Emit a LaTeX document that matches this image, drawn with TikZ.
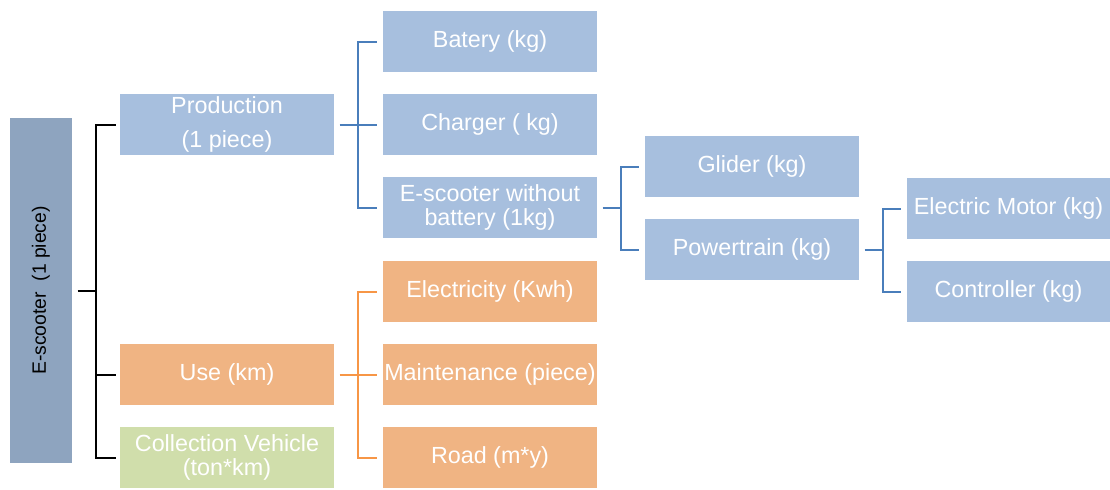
\documentclass[tikz,border=0pt]{standalone}
\usepackage{fontspec}
\setmainfont{Liberation Sans}
\usetikzlibrary{calc}

\definecolor{rootfill}{HTML}{8EA4BF}
\definecolor{bluefill}{HTML}{A7BFDE}
\definecolor{orangefill}{HTML}{F0B483}
\definecolor{greenfill}{HTML}{D0DEAB}
\definecolor{lineblue}{HTML}{4A7EBB}
\definecolor{lineorange}{HTML}{F79646}

\begin{document}
\begin{tikzpicture}[
  x=0.75pt,y=-0.75pt,
  box/.style={inner sep=0pt, minimum width=160.5pt, minimum height=45.75pt, align=center, text=white, font=\fontsize{17.5}{17.5}\selectfont},
  bbox/.style={box, fill=bluefill},
  obox/.style={box, fill=orangefill},
  gbox/.style={box, fill=greenfill},
  rootbox/.style={fill=rootfill, inner sep=0pt, minimum width=46.5pt, minimum height=258.75pt},
  kline/.style={draw=black, line width=1.5pt},
  bline/.style={draw=lineblue, line width=1.5pt},
  oline/.style={draw=lineorange, line width=1.5pt}
]
\useasboundingbox (0,0) rectangle (1110,489);
\node[rootbox] (root) at (41,290.5) {};
\node[rotate=90, font=\fontsize{14.5}{17}\selectfont] (roottext) at (root.center) {E-scooter~ (1 piece)};
\node[bbox] (prod) at (227,124.5) {Production\\[8pt](1 piece)};
\node[obox] (use) at (227,374.5) {Use (km)};
\node[gbox] (coll) at (227,457.5) {Collection Vehicle\\(ton*km)};
\node[bbox] (bat) at (490,41.5) {Batery (kg)};
\node[bbox] (chg) at (490,124.5) {Charger ( kg)};
\node[bbox] (esc) at (490,207.5) {E-scooter without\\battery (1kg)};
\node[obox] (elec) at (490,291.5) {Electricity (Kwh)};
\node[obox] (mnt) at (490,374.5) {Maintenance (piece)};
\node[obox] (road) at (490,457.5) {Road (m*y)};
\node[bbox] (glider) at (752,166.5) {Glider (kg)};
\node[bbox] (power) at (752,249.5) {Powertrain (kg)};
\node[bbox, minimum width=152.25pt] (motor) at (1008.5,208.5) {Electric Motor (kg)};
\node[bbox, minimum width=152.25pt] (ctrl) at (1008.5,291.5) {Controller (kg)};
\coordinate (rootj) at ($(root.east)+(24,0)$);
\coordinate (prodj) at ($(prod.east)+(24,0)$);
\coordinate (usej) at ($(use.east)+(24,0)$);
\coordinate (escj) at ($(esc.east)+(24,0)$);
\coordinate (powerj) at ($(power.east)+(24,0)$);
\draw[kline, shorten <=4pt] (root.east) -- (rootj); \draw[kline, shorten >=3pt] (rootj) |- (prod.west); \draw[kline, shorten >=3pt] (rootj) |- (use.west); \draw[kline, shorten >=3pt] (rootj) |- (coll.west);
\draw[bline, shorten <=4pt] (prod.east) -- (prodj); \draw[bline, shorten >=4pt] (prodj) |- (bat.west); \draw[bline, shorten >=4pt] (prodj) |- (chg.west); \draw[bline, shorten >=4pt] (prodj) |- (esc.west);
\draw[oline, shorten <=4pt] (use.east) -- (usej); \draw[oline, shorten >=4pt] (usej) |- (elec.west); \draw[oline, shorten >=4pt] (usej) |- (mnt.west); \draw[oline, shorten >=4pt] (usej) |- (road.west);
\draw[bline, shorten <=4pt] (esc.east) -- (escj); \draw[bline, shorten >=4pt] (escj) |- (glider.west); \draw[bline, shorten >=4pt] (escj) |- (power.west);
\draw[bline, shorten <=4pt] (power.east) -- (powerj); \draw[bline, shorten >=4pt] (powerj) |- (motor.west); \draw[bline, shorten >=4pt] (powerj) |- (ctrl.west);
\end{tikzpicture}
\end{document}
